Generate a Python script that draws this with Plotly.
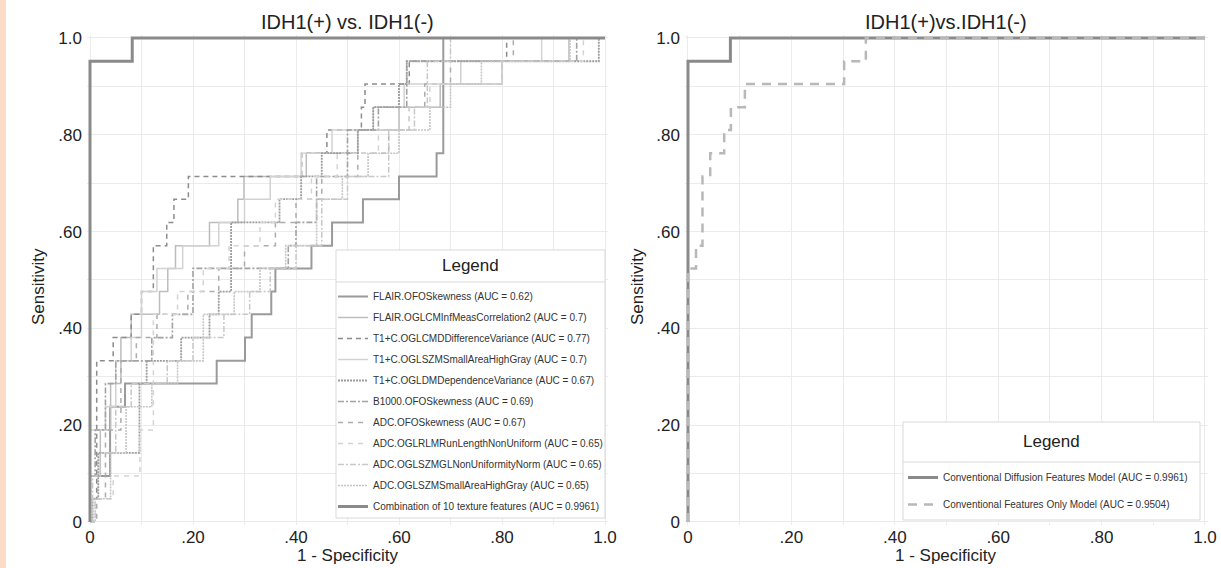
import plotly.graph_objects as go

W, H = 1221, 568
FONT = "Liberation Sans, Arial, Helvetica, sans-serif"

# ---------------- data ----------------
tick_vals = [0, 0.2, 0.4, 0.6, 0.8, 1.0]
tick_text = ["0", ".20", ".40", ".60", ".80", "1.0"]
minor_vals = [0.1, 0.3, 0.5, 0.7, 0.9]

left_title = "IDH1(+) vs. IDH1(-)"
right_title = "IDH1(+)vs.IDH1(-)"

left_names = [
    "FLAIR.OFOSkewness (AUC = 0.62)",
    "FLAIR.OGLCMInfMeasCorrelation2 (AUC = 0.7)",
    "T1+C.OGLCMDDifferenceVariance (AUC = 0.77)",
    "T1+C.OGLSZMSmallAreaHighGray (AUC = 0.7)",
    "T1+C.OGLDMDependenceVariance (AUC = 0.67)",
    "B1000.OFOSkewness (AUC = 0.69)",
    "ADC.OFOSkewness (AUC = 0.67)",
    "ADC.OGLRLMRunLengthNonUniform (AUC = 0.65)",
    "ADC.OGLSZMGLNonUniformityNorm (AUC = 0.65)",
    "ADC.OGLSZMSmallAreaHighGray (AUC = 0.65)",
    "Combination of 10 texture features (AUC = 0.9961)",
]

flair_ofo_fpr = [0, 0, 0.039, 0.068, 0.246, 0.301, 0.314, 0.352, 0.36, 0.43, 0.47, 0.53, 0.60, 0.673, 0.686, 1.0]
flair_ofo_tpr = [0, 0.095, 0.238, 0.286, 0.333, 0.381, 0.429, 0.476, 0.524, 0.571, 0.619, 0.667, 0.714, 0.762, 1.0, 1.0]

flair_glcm_fpr = [0, 0, 0.02, 0.04, 0.06, 0.08, 0.135, 0.151, 0.166, 0.232, 0.287, 0.299, 0.42, 0.52, 0.60, 0.68, 0.80, 0.93, 1.0]
flair_glcm_tpr = [0, 0.095, 0.190, 0.286, 0.381, 0.429, 0.476, 0.524, 0.571, 0.619, 0.667, 0.714, 0.762, 0.810, 0.857, 0.905, 0.952, 1.0, 1.0]

t1_glcmd_fpr = [0, 0, 0.013, 0.045, 0.08, 0.10, 0.123, 0.149, 0.163, 0.191, 0.411, 0.46, 0.527, 0.534, 0.62, 0.809, 1.0]
t1_glcmd_tpr = [0, 0.048, 0.333, 0.381, 0.429, 0.476, 0.571, 0.619, 0.667, 0.714, 0.762, 0.810, 0.857, 0.905, 0.952, 1.0, 1.0]

t1_glszm_fpr = [0, 0, 0.03, 0.05, 0.08, 0.10, 0.13, 0.18, 0.25, 0.30, 0.35, 0.41, 0.47, 0.55, 0.61, 0.72, 0.877, 1.0]
t1_glszm_tpr = [0, 0.190, 0.238, 0.333, 0.381, 0.476, 0.524, 0.571, 0.619, 0.667, 0.714, 0.762, 0.810, 0.857, 0.905, 0.952, 1.0, 1.0]

t1_gldm_fpr = [0, 0.005, 0.016, 0.096, 0.11, 0.177, 0.232, 0.25, 0.274, 0.368, 0.41, 0.45, 0.52, 0.55, 0.60, 0.615, 0.988, 1.0]
t1_gldm_tpr = [0, 0.048, 0.143, 0.286, 0.333, 0.381, 0.429, 0.476, 0.619, 0.667, 0.714, 0.762, 0.810, 0.857, 0.905, 0.952, 1.0, 1.0]

b1000_ofo_fpr = [0, 0, 0.01, 0.03, 0.05, 0.12, 0.16, 0.20, 0.385, 0.40, 0.44, 0.50, 0.56, 0.615, 0.945, 1.0]
b1000_ofo_tpr = [0, 0.095, 0.190, 0.286, 0.333, 0.381, 0.429, 0.524, 0.571, 0.619, 0.714, 0.810, 0.857, 0.952, 1.0, 1.0]

adc_ofo_fpr = [0, 0.013, 0.03, 0.06, 0.09, 0.13, 0.19, 0.25, 0.30, 0.36, 0.40, 0.45, 0.52, 0.58, 0.62, 0.65, 0.70, 0.822, 1.0]
adc_ofo_tpr = [0, 0.048, 0.190, 0.333, 0.381, 0.429, 0.476, 0.524, 0.571, 0.619, 0.667, 0.714, 0.762, 0.810, 0.857, 0.905, 0.952, 1.0, 1.0]

adc_glrlm_fpr = [0, 0.01, 0.045, 0.097, 0.123, 0.17, 0.22, 0.27, 0.33, 0.36, 0.43, 0.48, 0.56, 0.62, 0.66, 0.80, 0.958, 1.0]
adc_glrlm_tpr = [0, 0.048, 0.095, 0.190, 0.429, 0.476, 0.524, 0.571, 0.619, 0.667, 0.714, 0.762, 0.810, 0.857, 0.905, 0.952, 1.0, 1.0]

adc_glszm_gl_fpr = [0, 0.005, 0.02, 0.05, 0.08, 0.15, 0.20, 0.26, 0.31, 0.35, 0.40, 0.45, 0.50, 0.58, 0.63, 0.655, 0.70, 1.0]
adc_glszm_gl_tpr = [0, 0.095, 0.143, 0.238, 0.286, 0.333, 0.381, 0.429, 0.476, 0.524, 0.571, 0.667, 0.714, 0.810, 0.857, 0.952, 1.0, 1.0]

adc_glszm_sa_fpr = [0, 0.01, 0.04, 0.07, 0.12, 0.17, 0.22, 0.28, 0.33, 0.38, 0.44, 0.49, 0.54, 0.60, 0.66, 0.70, 0.76, 0.932, 1.0]
adc_glszm_sa_tpr = [0, 0.048, 0.143, 0.238, 0.286, 0.333, 0.429, 0.476, 0.524, 0.571, 0.667, 0.714, 0.762, 0.810, 0.857, 0.905, 0.952, 1.0, 1.0]

combo_fpr = [0, 0, 0.082, 1.0]
combo_tpr = [0, 0.952, 1.0, 1.0]

right_names = [
    "Conventional Diffusion Features Model (AUC = 0.9961)",
    "Conventional Features Only Model (AUC = 0.9504)",
]
cdf_fpr = [0, 0, 0.082, 1.0]
cdf_tpr = [0, 0.952, 1.0, 1.0]
conv_fpr = [0, 0, 0.0155, 0.028, 0.043, 0.070, 0.083, 0.110, 0.302, 0.344, 1.0]
conv_tpr = [0, 0.524, 0.571, 0.714, 0.762, 0.810, 0.857, 0.905, 0.952, 1.0, 1.0]

# ---------------- styling ----------------
left_curves = [
    (flair_ofo_fpr, flair_ofo_tpr, "#9a9a9a", 2.0, "solid"),
    (flair_glcm_fpr, flair_glcm_tpr, "#bdbdbd", 1.5, "solid"),
    (t1_glcmd_fpr, t1_glcmd_tpr, "#8c8c8c", 1.5, "5px,4px"),
    (t1_glszm_fpr, t1_glszm_tpr, "#d2d2d2", 1.5, "solid"),
    (t1_gldm_fpr, t1_gldm_tpr, "#9c9c9c", 1.8, "2px,1px"),
    (b1000_ofo_fpr, b1000_ofo_tpr, "#a2a2a2", 1.6, "6px,2px,2px,2px"),
    (adc_ofo_fpr, adc_ofo_tpr, "#acacac", 1.5, "5px,5px"),
    (adc_glrlm_fpr, adc_glrlm_tpr, "#d4d4d4", 1.5, "5px,5px"),
    (adc_glszm_gl_fpr, adc_glszm_gl_tpr, "#c8c8c8", 1.5, "6px,2px,2px,2px"),
    (adc_glszm_sa_fpr, adc_glszm_sa_tpr, "#c6c6c6", 1.6, "2px,1px"),
    (combo_fpr, combo_tpr, "#8a8a8a", 3.0, "solid"),
]
right_curves = [
    (cdf_fpr, cdf_tpr, "#8a8a8a", 3.0, "solid"),
    (conv_fpr, conv_tpr, "#b8b8b8", 2.5, "9px,7px"),
]

fig = go.Figure()
for name, (xs, ys, col, wd, dash) in zip(left_names, left_curves):
    fig.add_trace(go.Scatter(x=xs, y=ys, mode="lines", name=name, legendgroup=name,
                             line=dict(color=col, width=wd, dash=dash, shape="hv"),
                             xaxis="x", yaxis="y", legend="legend", hoverinfo="skip"))
for name, (xs, ys, col, wd, dash) in zip(right_names, right_curves):
    fig.add_trace(go.Scatter(x=xs, y=ys, mode="lines", name=name, legendgroup=name,
                             line=dict(color=col, width=wd, dash=dash, shape="hv"),
                             xaxis="x2", yaxis="y2", legend="legend2", hoverinfo="skip"))

PAD = 0.006


def xdom(p0, p1):
    u = p1 - p0
    return [(p0 - PAD * u) / W, (p1 + PAD * u) / W]


def ydom(p0, p1):
    u = p0 - p1
    return [1 - (p0 + PAD * u) / H, 1 - (p1 - PAD * u) / H]


def axis(dom, anchor, standoff):
    return dict(domain=dom, anchor=anchor, range=[-PAD, 1 + PAD], tickmode="array",
                tickvals=tick_vals, ticktext=tick_text, showgrid=True, gridcolor="#ebebeb",
                gridwidth=1, zeroline=False, showline=False, ticks="",
                ticklabelstandoff=standoff, automargin=False,
                tickfont=dict(family=FONT, size=17, color="#222"),
                minor=dict(tickmode="array", tickvals=minor_vals, showgrid=True,
                           gridcolor="#ebebeb", gridwidth=1, ticks=""),
                fixedrange=True)


LX0, LX1 = 90, 605
RX0, RX1 = 688, 1205
Y0, Y1 = 522, 38

fig.update_layout(
    width=W, height=H, autosize=False,
    margin=dict(l=0, r=0, t=0, b=0, autoexpand=False),
    paper_bgcolor="white", plot_bgcolor="white",
    xaxis=axis(xdom(LX0, LX1), "y", 0),
    yaxis=axis(ydom(Y0, Y1), "x", 4),
    xaxis2=axis(xdom(RX0, RX1), "y2", 0),
    yaxis2=axis(ydom(Y0, Y1), "x2", 4),
    legend=dict(x=333 / W, xanchor="left", y=1 - 282 / H, yanchor="top",
                bgcolor="rgba(0,0,0,0)", borderwidth=0, tracegroupgap=2,
                font=dict(family=FONT, size=10, color="#333"), itemclick=False),
    legend2=dict(x=903 / W, xanchor="left", y=1 - 463 / H, yanchor="top",
                 bgcolor="rgba(0,0,0,0)", borderwidth=0, tracegroupgap=8,
                 font=dict(family=FONT, size=10, color="#333"), itemclick=False),
    showlegend=True,
)


def px_x(p):
    return p / W


def px_y(p):
    return 1 - p / H


shapes = [
    dict(type="rect", xref="paper", yref="paper", x0=0, x1=px_x(6), y0=0, y1=1,
         fillcolor="#fcdcc8", line=dict(width=0), layer="below"),
    dict(type="rect", xref="paper", yref="paper", x0=px_x(336), x1=px_x(605),
         y0=px_y(518), y1=px_y(250), fillcolor="white",
         line=dict(color="#d9d9d9", width=1), layer="above"),
    dict(type="line", xref="paper", yref="paper", x0=px_x(336), x1=px_x(605),
         y0=px_y(282), y1=px_y(282), line=dict(color="#d9d9d9", width=1), layer="above"),
    dict(type="rect", xref="paper", yref="paper", x0=px_x(903), x1=px_x(1200),
         y0=px_y(520), y1=px_y(422), fillcolor="white",
         line=dict(color="#d9d9d9", width=1), layer="above"),
    dict(type="line", xref="paper", yref="paper", x0=px_x(903), x1=px_x(1200),
         y0=px_y(462), y1=px_y(462), line=dict(color="#d9d9d9", width=1), layer="above"),
]
fig.update_layout(shapes=shapes)


def ann(text, x, y, size, angle=0, color="#222"):
    return dict(text=text, xref="paper", yref="paper", x=px_x(x), y=px_y(y),
                xanchor="center", yanchor="middle", showarrow=False, textangle=angle,
                font=dict(family=FONT, size=size, color=color))


annotations = [
    ann(left_title, (LX0 + LX1) / 2, 22, 20),
    ann(right_title, (RX0 + RX1) / 2, 22, 20),
    ann("1 - Specificity", (LX0 + LX1) / 2, 555, 17),
    ann("1 - Specificity", (RX0 + RX1) / 2, 555, 17),
    ann("Sensitivity", 38, 287, 17, -90),
    ann("Sensitivity", 637, 287, 17, -90),
    ann("Legend", 470.5, 266, 17),
    ann("Legend", 1051.5, 441, 17),
]
fig.update_layout(annotations=annotations)

fig.write_html("out.html", config={"displayModeBar": False},
               post_script="document.body.style.margin='0px';document.body.style.overflow='hidden';")
